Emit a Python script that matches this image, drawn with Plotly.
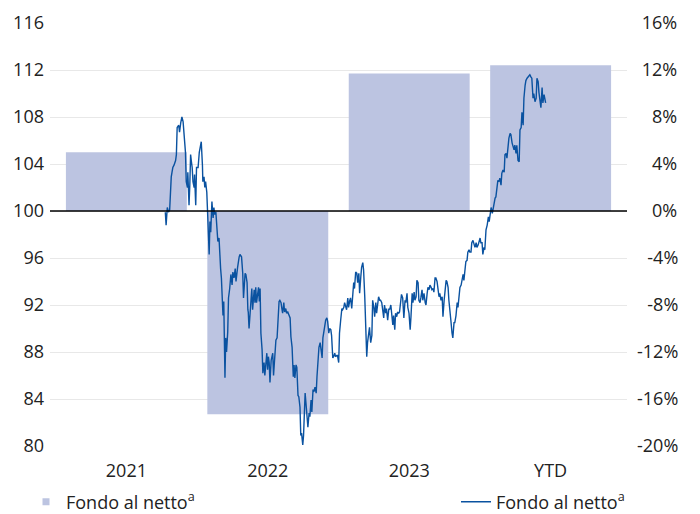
import pandas as pd
import plotly.graph_objects as go

# ---------------- data ----------------
categories = ["2021", "2022", "2023", "YTD"]
bar_returns_pct = [5.0, -17.3, 11.7, 12.4]

series_start = "2021-01-01"
# calendar days since series_start for each observation of the index
obs_day = [
    # late 2021
    292, 294, 297, 300, 303, 306, 307, 309, 311, 314,
    316, 318, 320, 322, 326, 328, 331, 334, 337, 339,
    343, 345, 348, 349, 352, 354, 356, 358, 360, 362,
    365, 366, 369, 371, 375, 378, 381, 383, 386, 387,
    390, 392, 394, 397, 399, 402, 403, 405, 407, 410,
    413, 415, 417, 420, 422, 425, 428, 430, 432, 434,
    436, 438, 440, 441, 443, 445, 447, 450, 452, 455,
    458, 461, 463, 466, 469,
    # 2022
    471, 473, 475, 479, 481, 485, 488, 490, 492, 494,
    496, 499, 501, 502, 504, 506, 508, 511, 513, 515,
    517, 519, 521, 523, 526, 528, 530, 532, 534, 537,
    539, 542, 544, 546, 549, 551, 553, 555, 557, 560,
    562, 564, 566, 568, 570, 572, 575, 577, 580, 582,
    585, 587, 589, 592, 594, 597, 599, 602, 605, 608,
    610, 613, 615, 616, 618, 620, 623, 625, 628, 630,
    633, 635, 637, 640, 642, 644, 646, 649, 651, 653,
    656, 658, 661, 663, 666, 668, 671, 674, 676, 679,
    681, 684,
    # 2023
    686, 689, 691, 694, 696, 698, 701, 703, 706, 708,
    711, 713, 716, 718, 721, 723, 726, 728, 731, 733,
    736, 739, 741, 744, 746, 749, 751, 754, 756, 759,
    761, 764, 766, 769, 771, 774, 777, 779, 782, 784,
    787, 789, 792, 794, 797, 799, 802, 804, 807, 809,
    812, 815, 817, 820, 822, 825, 827, 830, 832, 835,
    837, 840, 842, 845, 847, 850, 852, 855, 858, 860,
    863, 865, 868, 870, 873, 875, 878, 880, 883, 885,
    888, 890, 893,
    894, 896, 899, 901, 904, 906, 909, 912, 914, 917,
    919, 922, 924, 927, 929, 932, 934, 937, 939, 942,
    944, 947, 950, 952, 955, 957, 960, 962, 965, 967,
    970, 972, 975, 977, 980, 982, 985, 987, 990, 993,
    995, 998, 1000, 1003, 1005, 1008, 1010, 1013, 1015, 1018,
    1020, 1023, 1025, 1028, 1031, 1033, 1036, 1038, 1041, 1043,
    1046, 1048, 1051, 1053, 1056, 1058, 1061, 1063, 1066, 1068,
    1071, 1074, 1076, 1079, 1081, 1084, 1086, 1089, 1091, 1094,
    1096, 1099, 1101,
    # YTD
    1104, 1107, 1110, 1112, 1115, 1117, 1120, 1122, 1124, 1127,
    1129, 1132, 1134, 1137, 1139, 1142, 1144, 1147, 1150, 1152,
    1155, 1157, 1160, 1162, 1165, 1167, 1170, 1172, 1175, 1177,
    1180, 1182, 1185, 1188, 1190, 1193, 1195, 1198, 1200, 1203,
    1205, 1208, 1210, 1213, 1215, 1218, 1220, 1223, 1225, 1228,
    1231, 1233, 1236, 1238, 1241, 1243, 1246, 1248, 1251, 1253,
    1255,
]

nav_index = [
    # late 2021
    99.9, 98.8, 100.3, 99.9, 100.1, 102.5, 102.9, 103.3, 103.7, 103.9,
    104.1, 104.3, 104.8, 107.1, 107.3, 106.7, 107.5, 108.0, 107.6, 106.6,
    105.0, 102.5, 102.0, 103.3, 100.5, 102.2, 104.8, 104.2, 103.7, 102.5,
    102.0, 103.1, 100.5, 103.7, 103.7, 105.0, 105.4, 105.9, 103.9, 102.5,
    102.9, 102.0, 102.5, 101.6, 99.9, 98.0, 96.3, 99.1, 98.2, 100.8,
    99.4, 100.3, 99.7, 99.9, 98.6, 97.4, 97.7, 96.0, 95.1, 94.3,
    91.4, 91.1, 92.3, 87.1, 85.8, 89.2, 88.0, 89.7, 92.6, 93.4,
    94.6, 93.7, 94.8, 94.3, 95.1,
    # 2022
    94.0, 95.1, 95.2, 96.1, 96.3, 96.1, 94.7, 92.6, 93.9, 94.7,
    94.6, 93.9, 91.6, 91.4, 90.0, 91.0, 92.4, 93.4, 91.6, 92.3,
    93.3, 92.2, 93.5, 92.2, 93.4, 93.5, 92.3, 93.4, 89.6, 88.2,
    86.2, 87.1, 86.0, 87.1, 87.9, 86.5, 87.6, 87.1, 85.4, 87.3,
    87.6, 87.9, 86.0, 87.1, 88.2, 89.0, 89.2, 91.0, 92.3, 92.4,
    92.2, 91.7, 91.3, 92.2, 91.4, 91.7, 91.3, 91.4, 91.1, 90.9,
    89.3, 88.4, 86.7, 85.9, 86.9, 85.8, 86.9, 86.7, 84.3, 84.2,
    83.3, 80.9, 81.1, 80.1, 80.9, 83.1, 84.5, 83.3, 82.5, 81.6,
    82.8, 82.5, 83.9, 82.9, 84.8, 84.6, 85.0, 84.5, 85.9, 87.1,
    88.4, 88.8,
    # 2023
    88.2, 87.5, 89.2, 89.9, 90.1, 90.7, 90.9, 90.6, 89.6, 90.0,
    89.9, 89.4, 87.5, 87.6, 87.9, 87.6, 87.7, 87.7, 87.1, 89.6,
    90.7, 91.7, 91.6, 91.8, 92.2, 91.7, 91.6, 92.6, 91.8, 92.4,
    92.6, 91.7, 92.4, 93.9, 93.4, 94.8, 94.7, 93.9, 94.7, 93.0,
    94.4, 95.2, 95.6, 95.0, 92.7, 91.0, 87.6, 88.8, 89.6, 90.1,
    88.8, 89.4, 92.4, 91.8, 91.0, 92.2, 91.3, 92.4, 92.7, 92.4,
    92.4, 92.2, 91.6, 90.9, 92.0, 91.3, 91.7, 90.7, 91.7, 91.6,
    92.0, 91.3, 90.3, 91.1, 89.9, 91.3, 91.0, 91.4, 91.3, 91.4,
    92.7, 92.9, 92.6,
    91.3, 90.9, 92.4, 92.2, 93.0, 91.8, 91.3, 89.9, 91.0, 93.0,
    92.2, 93.1, 92.4, 92.7, 94.1, 93.9, 92.4, 92.2, 92.6, 93.3,
    92.4, 93.0, 92.2, 92.0, 93.0, 93.5, 93.3, 93.7, 93.5, 93.3,
    93.4, 93.1, 94.3, 94.3, 94.0, 93.5, 92.7, 93.0, 92.4, 92.7,
    91.0, 92.4, 93.3, 94.1, 94.0, 93.5, 92.4, 90.9, 90.7, 89.6,
    89.2, 90.5, 90.5, 91.1, 92.2, 91.8, 92.7, 93.5, 93.7, 94.1,
    94.6, 94.1, 95.6, 95.7, 95.8, 96.5, 96.7, 96.5, 96.5, 97.3,
    97.5, 97.1, 96.9, 97.3, 96.9, 97.1, 97.4, 97.7, 97.3, 97.3,
    96.3, 96.9, 96.7,
    # YTD
    98.4, 98.8, 99.5, 99.1, 99.9, 100.3, 99.8, 100.3, 100.8, 101.1,
    101.2, 102.0, 102.6, 102.5, 102.8, 102.2, 103.2, 103.5, 103.3, 104.8,
    104.9, 104.5, 105.6, 106.2, 106.6, 106.5, 105.8, 105.6, 105.2, 105.6,
    104.9, 105.6, 104.3, 104.2, 106.9, 107.1, 108.4, 107.3, 109.6, 110.7,
    111.1, 111.3, 111.4, 111.6, 111.6, 111.4, 111.3, 109.6, 110.0, 109.3,
    109.6, 111.3, 111.0, 110.1, 108.9, 108.8, 110.5, 109.2, 109.9, 109.6,
    109.2,
]
assert len(obs_day) == len(nav_index)
obs_date = pd.Timestamp(series_start) + pd.to_timedelta(obs_day, unit="D")
time_axis_range = ["2021-01-01", "2025-01-01"]

left_ticks = list(range(80, 117, 4))
right_ticks = list(range(-20, 17, 4))


def pct_label(t):
    # pad so that the labels line up on their right edge
    if t < 0:
        return ("\u2007" if abs(t) < 10 else "") + f"-{abs(t)}%"
    return "\u2008" + ("\u2007" if t < 10 else "") + f"{t}%"


right_ticktext = [pct_label(t) for t in right_ticks]

series_name = "Fondo al netto<sup>a</sup>"

# ---------------- style ----------------
BAR_COLOR = "#bcc4e1"
LINE_COLOR = "#0a52a0"
TEXT_COLOR = "#222222"
GRID_COLOR = "#e8e8e8"
FONT = "Open Sans"
FS = 18

W, H = 700, 514
ML, MR, MT, MB = 50, 73, 23, 68

fig = go.Figure()
fig.add_trace(go.Bar(
    x=categories, y=bar_returns_pct, width=0.855,
    marker=dict(color=BAR_COLOR, line=dict(width=0)),
    name=series_name, xaxis="x", yaxis="y", showlegend=False,
    hoverinfo="skip",
))
# legend entry for the bars (small square key)
fig.add_trace(go.Scatter(
    x=[None], y=[None], mode="markers",
    marker=dict(symbol="square", size=7, color=BAR_COLOR),
    name=series_name, xaxis="x", yaxis="y", legend="legend",
))
fig.add_trace(go.Scatter(
    x=obs_date, y=nav_index, mode="lines",
    line=dict(color=LINE_COLOR, width=1.4),
    name=series_name, xaxis="x2", yaxis="y2", legend="legend2",
))

tickfont = dict(family=FONT, size=FS, color=TEXT_COLOR)
legfont = dict(family=FONT, size=FS, color=TEXT_COLOR)
fig.update_layout(
    width=W, height=H,
    margin=dict(l=ML, r=MR, t=MT, b=MB, pad=0, autoexpand=False),
    paper_bgcolor="white", plot_bgcolor="white",
    font=dict(family=FONT, size=FS, color=TEXT_COLOR),
    xaxis=dict(type="category", range=[-0.54, 3.54], showgrid=False,
               showline=False, zeroline=False, ticks="", tickfont=tickfont,
               ticklabelstandoff=12, automargin=False),
    xaxis2=dict(overlaying="x", type="date", range=time_axis_range,
                visible=False),
    # percent axis (bars) shown on the right
    yaxis=dict(side="right", range=[-20, 16], tickvals=right_ticks,
               ticktext=right_ticktext, showgrid=True, gridcolor=GRID_COLOR,
               gridwidth=1, zeroline=False, showline=False, ticks="",
               tickfont=tickfont, ticklabelstandoff=9, automargin=False),
    # index axis (line) shown on the left
    yaxis2=dict(overlaying="y", side="left", range=[80, 116],
                tickvals=left_ticks, showgrid=False, zeroline=False,
                showline=False, ticks="", tickfont=tickfont,
                ticklabelstandoff=5, automargin=False),
    legend=dict(xref="container", yref="container", x=26 / W, y=12 / H,
                xanchor="left", yanchor="middle", orientation="h",
                font=legfont, bgcolor="rgba(0,0,0,0)"),
    legend2=dict(xref="container", yref="container", x=456 / W, y=12 / H,
                 xanchor="left", yanchor="middle", orientation="h",
                 font=legfont, bgcolor="rgba(0,0,0,0)"),
    shapes=[dict(type="line", xref="x domain", yref="y", x0=0, x1=1,
                 y0=0, y1=0, line=dict(color="black", width=1.5),
                 layer="above")],
    showlegend=True,
)

fig.write_html("out.html", config={"displayModeBar": False},
               post_script="document.body.style.margin='0';")
